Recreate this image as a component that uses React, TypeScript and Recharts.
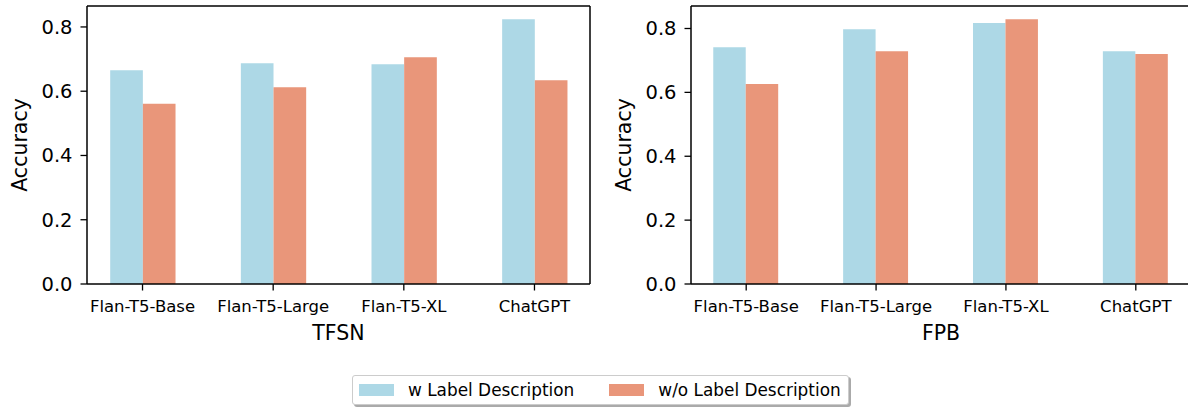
import React from 'react'
import { BarChart, Bar, XAxis, YAxis, Label } from 'recharts'

const MODELS = ['Flan-T5-Base', 'Flan-T5-Large', 'Flan-T5-XL', 'ChatGPT']
const TFSN_WITH = [0.665, 0.687, 0.684, 0.824]
const TFSN_WITHOUT = [0.561, 0.612, 0.706, 0.634]
const FPB_WITH = [0.741, 0.798, 0.817, 0.729]
const FPB_WITHOUT = [0.626, 0.729, 0.829, 0.72]
const Y_TICKS = [0, 0.2, 0.4, 0.6, 0.8]
const SERIES = [
  { key: 'w', name: 'w Label Description', color: '#ADD8E6' },
  { key: 'wo', name: 'w/o Label Description', color: '#E9967A' },
]

const FONT = "'DejaVu Sans', sans-serif"
const AXIS = '#000'
const X_DOMAIN = [-0.425, 3.425]
const CHART_W = 600

const XTitle = ({ viewBox, value }: any) => (
  <text x={viewBox.x + viewBox.width / 2} y={viewBox.y + 56} textAnchor="middle" fontSize={20.5} fill="#000">
    {value}
  </text>
)

const YTitle = ({ viewBox }: any) => {
  const x = viewBox.x + viewBox.width - 60
  const y = viewBox.y + viewBox.height / 2
  return (
    <text x={x} y={y} transform={`rotate(-90 ${x} ${y})`} textAnchor="middle" fontSize={20.5} fill="#000">
      Accuracy
    </text>
  )
}

interface PanelProps {
  title: string
  withDesc: number[]
  withoutDesc: number[]
  yAxisWidth: number
  marginRight: number
}

function Panel({ title, withDesc, withoutDesc, yAxisWidth, marginRight }: PanelProps) {
  const data = MODELS.map((m, i) => ({ idx: i, model: m, w: withDesc[i], wo: withoutDesc[i] }))
  // each bar spans a quarter of the spacing between groups
  const plotW = CHART_W - yAxisWidth - marginRight - 1
  const barSize = (plotW / (X_DOMAIN[1] - X_DOMAIN[0])) * 0.25
  return (
    <BarChart
      width={CHART_W}
      height={360}
      data={data}
      margin={{ top: 5, right: marginRight, left: 0, bottom: 16 }}
      barGap={0}
      barSize={barSize}
    >
      <XAxis
        dataKey="idx"
        type="number"
        domain={X_DOMAIN}
        ticks={[0, 1, 2, 3]}
        interval={0}
        tickFormatter={(i: number) => MODELS[i]}
        tick={{ fontSize: 16.5, fill: '#000' }}
        tickSize={6.5}
        tickMargin={10}
        height={60}
        axisLine={{ stroke: AXIS, strokeWidth: 1.5 }}
        tickLine={{ stroke: AXIS, strokeWidth: 1.3 }}
      >
        <Label value={title} content={<XTitle value={title} />} />
      </XAxis>
      <XAxis
        xAxisId="top"
        dataKey="idx"
        type="number"
        domain={X_DOMAIN}
        orientation="top"
        tick={false}
        tickLine={false}
        height={1}
        axisLine={{ stroke: AXIS, strokeWidth: 1.5 }}
      />
      <YAxis
        domain={[0, (dataMax: number) => dataMax * 1.05]}
        ticks={Y_TICKS}
        tickFormatter={(v: number) => v.toFixed(1)}
        tick={{ fontSize: 19.5, fill: '#000' }}
        tickSize={6.5}
        tickMargin={8}
        width={yAxisWidth}
        axisLine={{ stroke: AXIS, strokeWidth: 1.5 }}
        tickLine={{ stroke: AXIS, strokeWidth: 1.3 }}
      >
        <Label content={<YTitle />} />
      </YAxis>
      <YAxis
        yAxisId="right"
        orientation="right"
        width={1}
        tick={false}
        tickLine={false}
        axisLine={{ stroke: AXIS, strokeWidth: 1.5 }}
      />
      {SERIES.map((s) => (
        <Bar key={s.key} dataKey={s.key} name={s.name} fill={s.color} isAnimationActive={false} />
      ))}
    </BarChart>
  )
}

export default function App() {
  return (
    <div
      style={{
        position: 'absolute',
        left: 0,
        top: 0,
        width: 1188,
        height: 408,
        overflow: 'hidden',
        background: '#fff',
        fontFamily: FONT,
      }}
    >
      <div style={{ position: 'absolute', left: 0, top: 0 }}>
        <Panel title="TFSN" withDesc={TFSN_WITH} withoutDesc={TFSN_WITHOUT} yAxisWidth={87} marginRight={9} />
      </div>
      <div style={{ position: 'absolute', left: 600, top: 0 }}>
        <Panel title="FPB" withDesc={FPB_WITH} withoutDesc={FPB_WITHOUT} yAxisWidth={91} marginRight={8} />
      </div>
      <div
        style={{
          position: 'absolute',
          left: 352,
          top: 375,
          width: 497,
          height: 30,
          boxSizing: 'border-box',
          border: '1px solid #cccccc',
          borderRadius: 3,
          boxShadow: '2px 2px 0 #aaaaaa',
          background: '#fff',
          display: 'flex',
          alignItems: 'center',
          paddingLeft: 6,
          fontSize: 16.9,
          color: '#000',
        }}
      >
        {SERIES.map((s, i) => (
          <div key={s.key} style={{ display: 'flex', alignItems: 'center', marginRight: i === 0 ? 35 : 0 }}>
            <span style={{ display: 'inline-block', width: 35, height: 12, background: s.color, marginRight: 14 }} />
            <span style={{ whiteSpace: 'nowrap' }}>{s.name}</span>
          </div>
        ))}
      </div>
    </div>
  )
}
